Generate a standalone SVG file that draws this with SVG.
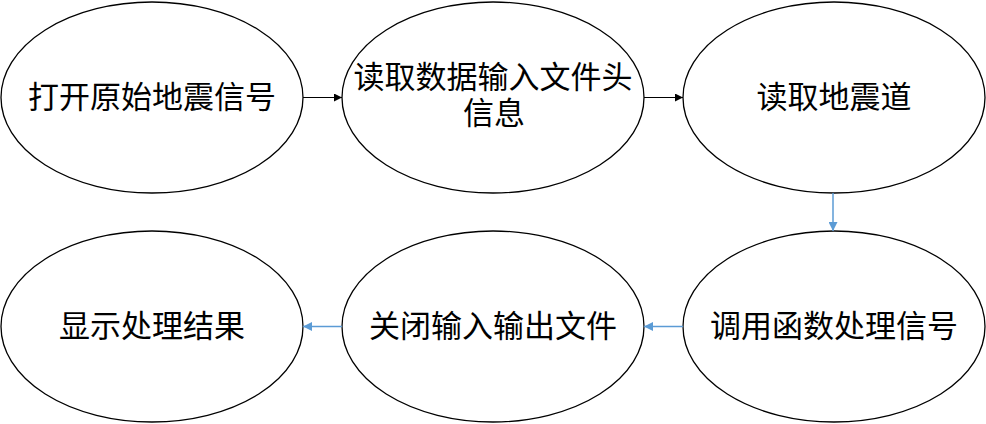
<svg xmlns="http://www.w3.org/2000/svg" width="986" height="424" viewBox="0 0 986 424">
<style>
.n ellipse{fill:#fff;stroke:#000;stroke-width:1.3}
.n text{font-family:"Noto Sans CJK SC","Noto Sans",sans-serif;font-size:31px;fill:#000;text-anchor:middle}
.k{stroke:#000;stroke-width:1.2;fill:none}
.b{stroke:#5B9BD5;stroke-width:1.5;fill:none}
</style>
<defs>
<marker id="ak" viewBox="0 0 10 10" refX="10" refY="5" markerWidth="8" markerHeight="8" markerUnits="userSpaceOnUse" orient="auto"><path d="M0,0L10,5L0,10z" fill="#000"/></marker>
<marker id="ab" viewBox="0 0 10 10" refX="10" refY="5" markerWidth="9" markerHeight="9" markerUnits="userSpaceOnUse" orient="auto"><path d="M0,0L10,5L0,10z" fill="#5B9BD5"/></marker>
</defs>
<g id="n1" class="n"><ellipse cx="152" cy="97.5" rx="151" ry="95.5"/><text x="152" y="108">打开原始地震信号</text></g>
<g id="n2" class="n"><ellipse cx="493" cy="97.5" rx="151" ry="95.5"/><text x="493" y="88">读取数据输入文件头<tspan x="494" y="124">信息</tspan></text></g>
<g id="n3" class="n"><ellipse cx="834" cy="97.5" rx="151" ry="95.5"/><text x="834" y="108">读取地震道</text></g>
<g id="n4" class="n"><ellipse cx="834" cy="326.5" rx="151" ry="95.5"/><text x="834" y="337">调用函数处理信号</text></g>
<g id="n5" class="n"><ellipse cx="493" cy="326.5" rx="151" ry="95.5"/><text x="493" y="337">关闭输入输出文件</text></g>
<g id="n6" class="n"><ellipse cx="152" cy="326.5" rx="151" ry="95.5"/><text x="152" y="337">显示处理结果</text></g>
<g id="connectors">
<line class="k" x1="303" y1="97.5" x2="342" y2="97.5" marker-end="url(#ak)"/>
<line class="k" x1="644" y1="97.5" x2="683" y2="97.5" marker-end="url(#ak)"/>
<line class="b" x1="833" y1="193" x2="833" y2="231" marker-end="url(#ab)"/>
<line class="b" x1="683" y1="326.5" x2="644" y2="326.5" marker-end="url(#ab)"/>
<line class="b" x1="342" y1="326.5" x2="303" y2="326.5" marker-end="url(#ab)"/>
</g>
</svg>
